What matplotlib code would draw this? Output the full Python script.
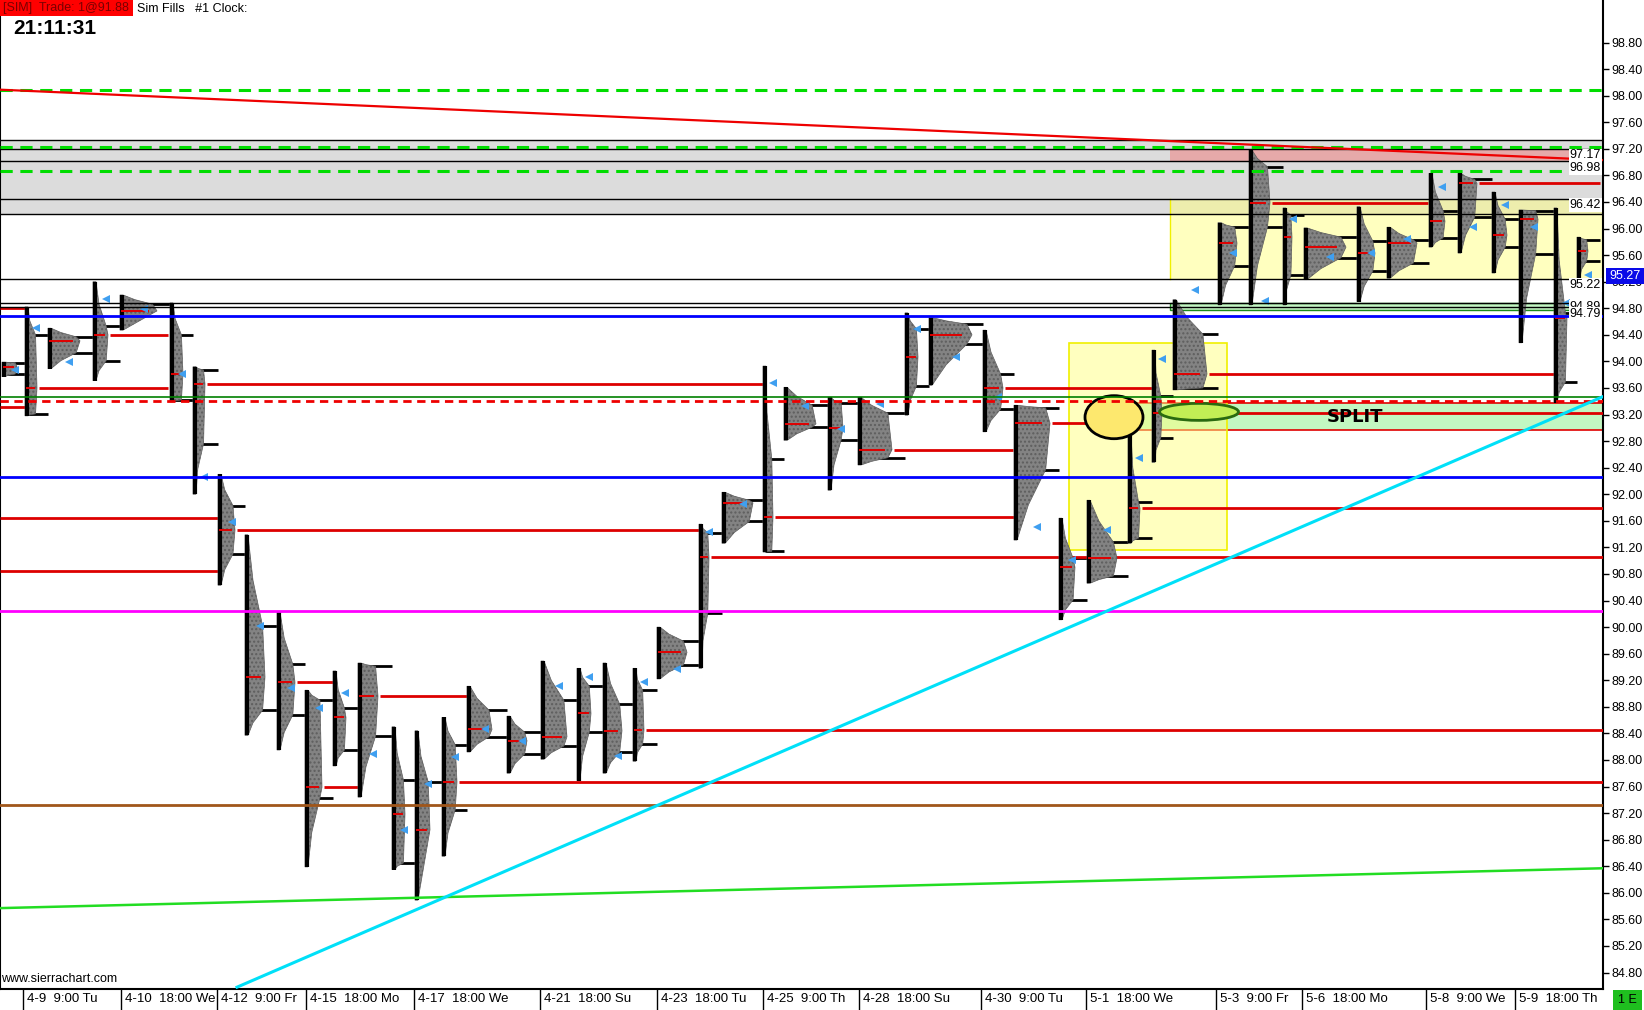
import numpy as np
import matplotlib
matplotlib.use("Agg")
import matplotlib.pyplot as plt
from matplotlib.patches import Rectangle, Ellipse
import matplotlib.transforms as mtransforms

plt.rcParams['font.family'] = ['Liberation Sans', 'DejaVu Sans']
nan = np.nan

# ---------------- data ----------------
price_min, price_max = 84.56, 99.44
bar_max = 1603
price_ticks = [round(84.8 + 0.4 * k, 2) for k in range(36)]

axis_label_bar = [23, 121, 217, 306, 414, 540, 657, 763, 859, 981, 1086, 1216, 1302, 1426, 1515]
axis_label_text = ["4-9  9:00 Tu", "4-10  18:00 We", "4-12  9:00 Fr", "4-15  18:00 Mo",
                   "4-17  18:00 We", "4-21  18:00 Su", "4-23  18:00 Tu", "4-25  9:00 Th",
                   "4-28  18:00 Su", "4-30  9:00 Tu", "5-1  18:00 We", "5-3  9:00 Fr",
                   "5-6  18:00 Mo", "5-8  9:00 We", "5-9  18:00 Th"]

# TPO profiles: session start bar, high, low, POC, max width (bars), value-area high/low, marker
session_bar = [2, 25, 48, 93, 120, 170, 193, 218, 245, 277, 305, 333, 358, 392, 415, 442, 467, 507,
               541, 577, 603, 633, 657, 699, 722, 763, 784, 828, 858, 905, 929, 983, 1014, 1059,
               1087, 1128, 1152, 1173, 1218, 1249, 1283, 1304, 1357, 1387, 1429, 1458, 1492, 1519,
               1554, 1577]
session_high = [93.99, 94.82, 94.50, 95.20, 95.00, 94.88, 93.92, 92.30, 91.39, 90.23, 89.05, 89.34,
                89.46, 88.50, 88.44, 88.64, 89.11, 88.66, 89.49, 89.38, 89.46, 89.38, 90.00, 91.55,
                92.03, 93.93, 93.61, 93.46, 93.46, 94.73, 94.66, 94.47, 93.34, 91.64, 91.91, 92.92,
                94.17, 94.93, 96.09, 97.18, 96.31, 96.01, 96.33, 96.02, 96.83, 96.83, 96.55, 96.28,
                96.31, 95.87]
session_low = [93.77, 93.18, 93.89, 93.71, 94.47, 93.39, 92.00, 90.63, 88.37, 88.15, 86.39, 87.91,
               87.44, 86.35, 85.89, 86.55, 88.12, 87.80, 88.01, 87.69, 87.80, 87.98, 89.22, 89.38,
               91.26, 91.13, 92.81, 92.06, 92.44, 93.19, 93.64, 92.94, 91.31, 90.11, 90.66, 91.26,
               92.48, 93.57, 94.85, 94.85, 94.85, 95.23, 94.90, 95.25, 95.72, 95.63, 95.33, 94.28,
               93.38, 95.25]
session_poc = [93.92, 93.60, 94.31, 94.40, 94.76, 93.81, 93.66, 91.46, 89.25, 89.17, 87.59, 88.64,
               88.96, 87.19, 86.95, 87.67, 88.46, 88.29, 88.35, 88.70, 88.44, 88.45, 89.62, 91.05,
               91.87, 91.66, 93.06, 93.00, 92.67, 94.07, 94.40, 93.60, 93.07, 90.90, 91.04, 91.79,
               93.22, 93.81, 95.78, 96.39, 95.87, 95.72, 95.63, 95.78, 96.11, 96.68, 95.90, 96.14,
               94.65, 95.66]
session_width = [15, 12, 32, 15, 37, 13, 12, 17, 20, 18, 17, 13, 20, 13, 15, 15, 25, 20, 26, 14, 19,
                 11, 30, 10, 31, 10, 32, 15, 34, 13, 43, 20, 36, 16, 30, 12, 10, 34, 19, 21, 9, 42,
                 18, 30, 16, 19, 15, 19, 13, 11]
va_high = [93.98, 94.40, 94.37, 94.53, 94.86, 94.40, 93.87, 91.83, 90.02, 89.44, 88.90, 88.78, 89.41,
           87.70, 87.67, 88.23, 88.75, 88.42, 88.90, 89.11, 88.84, 89.05, 89.79, 91.42, 91.91, 92.53,
           93.34, 93.37, 93.22, 94.49, 94.56, 93.81, 93.30, 91.04, 91.28, 91.88, 93.48, 94.41, 96.02,
           96.93, 96.20, 95.87, 95.81, 95.83, 96.27, 96.74, 96.14, 96.27, 94.73, 95.83]
va_low = [93.81, 93.21, 94.13, 94.01, nan, 93.42, 92.76, 91.10, 88.75, 88.68, 87.43, 88.15, 88.36,
          86.45, nan, 87.25, 88.35, 88.09, 88.21, 88.42, 88.12, 88.24, 89.43, 90.21, 91.59, 91.14,
          93.01, 92.82, 92.55, 93.63, 94.26, 93.28, 92.37, 90.41, 90.77, 91.34, 92.85, 93.60, 95.44,
          96.02, 95.30, 95.56, 95.36, 95.48, 95.86, 96.17, 95.72, 95.62, 93.69, 95.51]
marker_price = [93.87, 94.51, 93.99, 94.94, 94.79, 93.81, 92.26, 91.58, 90.02, 89.08, 88.78, 89.01,
                88.09, 86.95, 87.64, 88.05, 88.46, 88.29, 89.11, 89.25, 88.06, 89.17, 89.37, 91.43,
                91.85, 93.67, 93.33, 92.98, 93.36, 94.49, 94.07, 93.47, 91.51, 91.01, 91.46, 92.54,
                94.04, 95.08, 95.63, 94.91, 96.14, 95.57, 95.63, 95.84, 96.63, 96.02, 96.36, 96.02,
                94.88, 95.30]

# naked POC extensions: session index and bar where the line stops
poc_ext_session = [1, 3, 6, 7, 9, 10, 12, 15, 21, 23, 25, 28, 31, 32, 35, 36, 37, 39, 45]
poc_ext_stop = [168, 168, 763, 699, 333, 358, 467, 1603, 1603, 1603, 1014, 1013, 1152, 1137, 1603,
                1603, 1555, 1428, 1600]
# POC lines carried in from sessions left of the chart
carried_poc_price = [94.80, 93.31, 91.64, 90.84]
carried_poc_stop = [25, 25, 218, 218]

# study lines
black_levels = [97.33, 97.20, 97.02, 96.45, 96.22, 95.24, 94.875, 94.815]
green_dashed_levels = [98.08, 97.22, 96.86]
blue_levels = [94.69, 92.26]
magenta_level = 90.25
brown_level = 87.32
green_level = 93.46
red_dashed_level = 93.41
red_trend = ([0, 1603], [98.09, 97.03])
lime_trend = ([0, 1603], [85.77, 86.37])
cyan_trend = ([237, 1603], [84.58, 93.47])

# zones
gray_zone = (96.22, 97.33)
pink_zone = (1170, 97.02, 97.20)
yellow_zone_top = (1170, 95.24, 96.45)
green_small_zone = (1170, 94.77, 94.875)
split_zone = (1137, 92.97, 93.37)
yellow_box = (1069, 1227, 91.16, 94.28)
ellipse_yellow = (1114, 93.16, 58, 0.648)
ellipse_green = (1199, 93.24, 79, 0.256)

price_labels = [97.17, 96.98, 96.42, 95.22, 94.89, 94.79]

# ---------------- drawing ----------------
fig = plt.figure(figsize=(16.44, 10.10), dpi=100)
ax = fig.add_axes([0, 21.5 / 1010, 1603 / 1644, 988.5 / 1010])
ax.set_xlim(0, bar_max)
ax.set_ylim(price_min, price_max)
ax.set_facecolor('white')

# zones
ax.add_patch(Rectangle((0, gray_zone[0]), bar_max, gray_zone[1] - gray_zone[0],
                       fc='#dcdcdc', ec='none', zorder=1))
x, lo, hi = pink_zone
ax.add_patch(Rectangle((x, lo), bar_max - x, hi - lo, fc='#e6a9a9', ec='none', zorder=1.1))
x, lo, hi = yellow_zone_top
ax.add_patch(Rectangle((x, lo), bar_max - x, hi - lo, fc='#ffff80', alpha=0.5, ec='none', zorder=1.2))
ax.plot([x, x], [lo, hi], color='#f0f000', lw=1, zorder=1.3)
x, lo, hi = green_small_zone
ax.add_patch(Rectangle((x, lo), bar_max - x, hi - lo, fc='#c4f5c4', ec='#1c8a1c', lw=1, zorder=1.2))
x, lo, hi = split_zone
ax.add_patch(Rectangle((x, lo), bar_max - x, hi - lo, fc='#c2f7c2', ec='#e00000', lw=1.2, zorder=1.2))
x0, x1, lo, hi = yellow_box
ax.add_patch(Rectangle((x0, lo), x1 - x0, hi - lo, fc='#ffff80', alpha=0.5, ec='none', zorder=1.3))
ax.add_patch(Rectangle((x0, lo), x1 - x0, hi - lo, fc='none', ec='#f0f000', lw=1.2, zorder=1.4))

# profiles
n = len(session_bar)
for i in range(n):
    x0 = session_bar[i]
    w = session_width[i]
    nxt = session_bar[i + 1] if i + 1 < n else 1600
    lo, hi, poc = session_low[i], session_high[i], session_poc[i]
    vah, val = va_high[i], va_low[i]
    for v in (vah, val):
        if not np.isnan(v):
            ax.plot([x0 + 2, nxt], [v, v], color='black', lw=2, zorder=2.5, solid_capstyle='butt')
    pts = [(lo, 3.0), (poc, w), (hi, 3.0)]
    if not np.isnan(val):
        pts += [(val, 0.88 * w), ((val + lo) / 2, 0.4 * w)]
    if not np.isnan(vah):
        pts += [(vah, 0.88 * w), ((vah + hi) / 2, 0.4 * w)]
    pts = sorted(pts)
    xs = [x0] + [x0 + max(pw, 3.0) for _, pw in pts] + [x0]
    ys = [pts[0][0]] + [p for p, _ in pts] + [pts[-1][0]]
    ax.fill(xs, ys, color='#838383', lw=0, zorder=3)
    ax.fill(xs, ys, fc='none', ec='#5e5e5e', lw=0.5, hatch='....', zorder=3.05)
    ax.plot([x0 + 1.5, x0 + 1.5], [lo, hi], color='black', lw=3, zorder=3.5,
            solid_capstyle='butt')
    ax.plot([x0 + 2, x0 + 0.75 * w], [poc, poc], color='#e00000', lw=1.4, zorder=3.6)
    ax.plot(x0 + 0.5 * w + 5, marker_price[i], marker='<', color='#3f9ff0', ms=6, mew=0, zorder=3.7)

# naked POC lines
for si, stop in zip(poc_ext_session, poc_ext_stop):
    start = session_bar[si] + session_width[si] + 2
    p = session_poc[si]
    ax.plot([start, stop], [p, p], color='#dd0000', lw=2, zorder=2.6, solid_capstyle='butt')
for p, stop in zip(carried_poc_price, carried_poc_stop):
    ax.plot([0, stop], [p, p], color='#dd0000', lw=2, zorder=2.6, solid_capstyle='butt')

# ellipses
cx, cy, ew, eh = ellipse_yellow
ax.add_patch(Ellipse((cx, cy), ew, eh, fc='#fde86e', ec='black', lw=2, zorder=3.8))
cx, cy, ew, eh = ellipse_green
ax.add_patch(Ellipse((cx, cy), ew, eh, fc='#c2ee55', ec='#2a6a10', lw=2, zorder=3.8))

# study lines
for v in black_levels:
    ax.axhline(v, color='black', lw=1, zorder=4)
for v in green_dashed_levels:
    ax.axhline(v, color='#00dd00', lw=2.2, ls=(0, (4, 2.5)), zorder=4.1)
for v in blue_levels:
    ax.axhline(v, color='#0000ff', lw=2, zorder=4)
ax.axhline(magenta_level, color='#ff00ff', lw=2, zorder=4)
ax.axhline(brown_level, color='#a0561a', lw=2, zorder=4)
ax.axhline(green_level, color='#008000', lw=1.2, zorder=4)
ax.axhline(red_dashed_level, color='#ee0000', lw=2, ls=(0, (3, 2)), zorder=4)
ax.plot(*red_trend, color='#ee0000', lw=1.6, zorder=4.2)
ax.plot(*lime_trend, color='#22dd22', lw=1.8, zorder=4.2)
ax.plot(*cyan_trend, color='#00e0f8', lw=2.2, zorder=4.2)

ax.text(1355, 93.17, "SPLIT", fontsize=13, fontweight='bold', color='black',
        ha='center', va='center', family=['DejaVu Sans'], zorder=5)

# price labels inside plot
for v in price_labels:
    ax.text(1601, v - 0.07, f"{v:.2f}", ha='right', va='center', fontsize=9, zorder=6,
            bbox=dict(fc='white', ec='none', pad=0.6))

# axes styling
ax.spines['top'].set_visible(False)
ax.spines['left'].set_linewidth(1.5)
ax.spines['right'].set_linewidth(1.5)
ax.spines['bottom'].set_linewidth(1.5)
ax.yaxis.tick_right()
ax.set_yticks(price_ticks)
ax.set_yticklabels([f"{v:.2f}" for v in price_ticks])
ax.tick_params(axis='y', direction='out', length=4, width=1, pad=2, labelsize=9)
ax.set_xticks([])

trans = mtransforms.blended_transform_factory(ax.transData, ax.transAxes)
row = 21.5 / 988.5
for b, t in zip(axis_label_bar, axis_label_text):
    ax.plot([b, b], [0, -row], transform=trans, color='black', lw=1, clip_on=False)
    ax.text(b + 4, -row * 0.5, t, transform=trans, ha='left', va='center', fontsize=9.5,
            clip_on=False)

# header / footer
fig.add_artist(Rectangle((0, 1 - 16 / 1010), 133 / 1644, 16 / 1010, transform=fig.transFigure,
                         fc='#ff0000', ec='none'))
fig.text(3 / 1644, 1 - 8.5 / 1010, "[SIM]  Trade: 1@91.88", color='#7a0000', fontsize=9, va='center')
fig.text(137 / 1644, 1 - 8.5 / 1010, "Sim Fills   #1 Clock:", color='black', fontsize=9, va='center')
fig.text(13 / 1644, 1 - 28 / 1010, "21:11:31", color='black', fontsize=15, fontweight='bold',
         va='center')
fig.text(1 / 1644, 1 - 979 / 1010, "www.sierrachart.com", color='black', fontsize=9, va='center')

fig.add_artist(Rectangle((1606 / 1644, 1 - 284 / 1010), 38 / 1644, 16 / 1010,
                         transform=fig.transFigure, fc='#0a0ae8', ec='none', zorder=10))
fig.text(1609 / 1644, 1 - 276 / 1010, "95.27", color='white', fontsize=9, va='center', zorder=11)

fig.add_artist(Rectangle((1613 / 1644, 0), 29 / 1644, 20 / 1010, transform=fig.transFigure,
                         fc='#1fbf1f', ec='none'))
fig.text(1627 / 1644, 10 / 1010, "1 E", color='black', fontsize=9, va='center', ha='center')

fig.savefig("out.png", dpi=100)
